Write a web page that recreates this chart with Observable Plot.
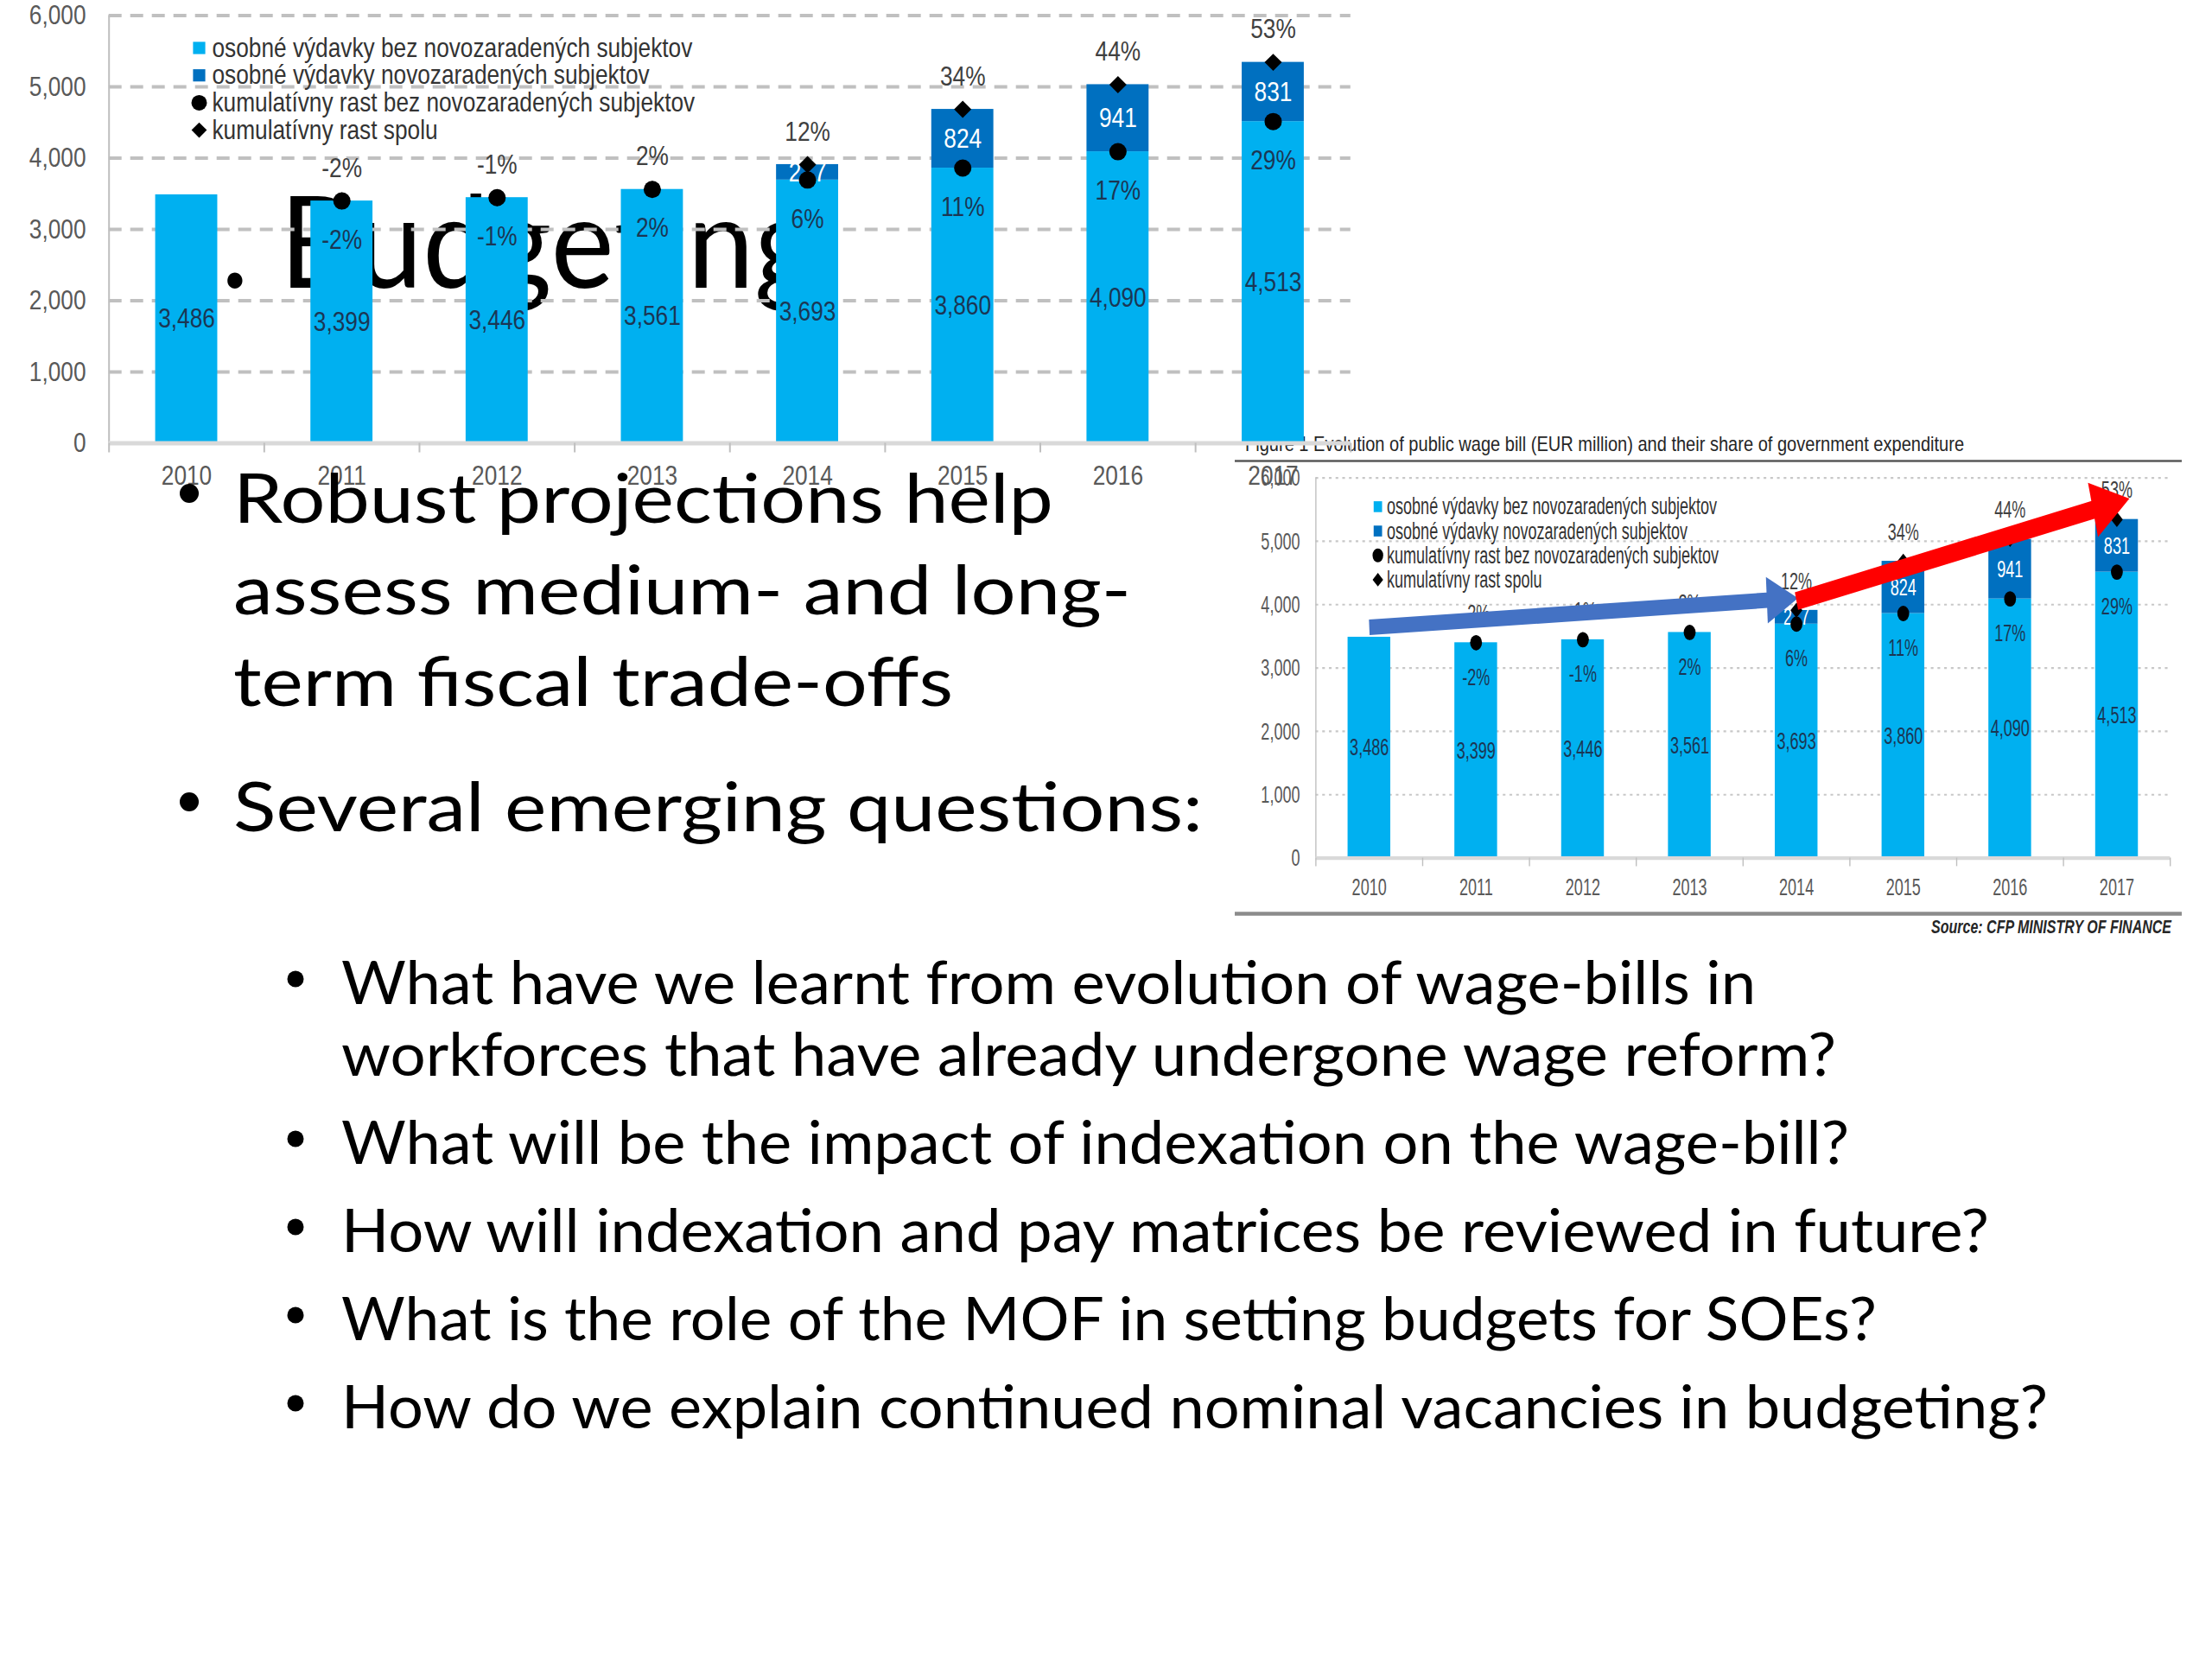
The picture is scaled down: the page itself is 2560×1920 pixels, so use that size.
<!DOCTYPE html>
<html>
<head>
<meta charset="utf-8">
<script src="https://cdn.jsdelivr.net/npm/d3@7"></script>
<script src="https://cdn.jsdelivr.net/npm/@observablehq/plot@0.6"></script>
<style>
html, body { margin: 0; padding: 0; background: #fff; }
#slide { position: relative; width: 2560px; height: 1920px; overflow: hidden; background: #fff; }
.layer { position: absolute; left: 0; top: 0; }
.layer svg { max-width: none; display: block; }
</style>
</head>
<body>
<div id="slide"></div>
<script>
// ---------------- data ----------------
const years = [2010, 2011, 2012, 2013, 2014, 2015, 2016, 2017];
const spendExisting = [3486, 3399, 3446, 3561, 3693, 3860, 4090, 4513];
const spendNew = [0, 0, 0, 0, 217, 824, 941, 831];
const growthExisting = ["", "-2%", "-1%", "2%", "6%", "11%", "17%", "29%"];
const growthTotal = ["", "-2%", "-1%", "2%", "12%", "34%", "44%", "53%"];
const yTicks = [0, 1000, 2000, 3000, 4000, 5000, 6000];
const legendLabels = [
  "osobné výdavky bez novozaradených subjektov",
  "osobné výdavky novozaradených subjektov",
  "kumulatívny rast bez novozaradených subjektov",
  "kumulatívny rast spolu"
];
// annotation arrows on the small figure (year, EUR million)
const arrowStartYear = [2010, 2014];
const arrowStartValue = [3641, 4056];
const arrowEndYear = [2013.82, 2016.89];
const arrowEndValue = [4080, 5554];

const slideTitle = "1. Budgeting";
const bulletsTop = [
  ["Robust projections help", "assess medium- and long-", "term fiscal trade-offs"],
  ["Several emerging questions:"]
];
const questions = [
  ["What have we learnt from evolution of wage-bills in", "workforces that have already undergone wage reform?"],
  ["What will be the impact of indexation on the wage-bill?"],
  ["How will indexation and pay matrices be reviewed in future?"],
  ["What is the role of the MOF in setting budgets for SOEs?"],
  ["How do we explain continued nominal vacancies in budgeting?"]
];
const figureTitle = "Figure 1 Evolution of public wage bill (EUR million) and their share of government expenditure";
const sourceNote = "Source: CFP MINISTRY OF FINANCE";

// ---------------- styles ----------------
const LIGHT = "#00b0f0", DARK = "#0070c0";
const CHART_FONT = '"Liberation Sans",Arial,sans-serif';
const SLIDE_FONT = 'Lato,"Open Sans","Noto Sans",sans-serif';
const slide = document.getElementById("slide");

function wageChart(k, opt) {
  const fs = 32 * k;
  const table = years.map((year, i) => ({
    year, base: spendExisting[i], add: spendNew[i], total: spendExisting[i] + spendNew[i],
    gb: growthExisting[i], gt: growthTotal[i]
  }));
  const grown = table.filter(d => d.gt !== "");
  const added = table.filter(d => d.add > 0);
  const edges = [years[0] - 0.5, ...years.map(y => y + 0.5)];
  const half = 0.2;
  const marks = [
    Plot.ruleY(yTicks.slice(1), {stroke: opt.grid, strokeWidth: opt.gridWidth, strokeDasharray: opt.dash}),
    Plot.ruleX([edges[0]], {stroke: "#bfbfbf", strokeWidth: 2 * k}),
    Plot.rectY(table, {x1: d => d.year - half, x2: d => d.year + half, y1: 0, y2: "base", fill: LIGHT}),
    Plot.rectY(added, {x1: d => d.year - half, x2: d => d.year + half, y1: "base", y2: "total", fill: DARK}),
    Plot.ruleY([0], {stroke: "#d9d9d9", strokeWidth: 5 * k}),
    Plot.axisX(edges, {tickSize: 11 * k, tickFormat: () => "", stroke: "#bfbfbf", strokeWidth: 2 * k, label: null}),
    Plot.axisX(years, {tickSize: 0, tickPadding: 25 * k, tickFormat: d => String(d), fontSize: fs, fill: "#595959", label: null}),
    Plot.axisY(yTicks, {tickSize: 0, tickPadding: 26.7 * k, tickFormat: d3.format(","), fontSize: fs, fill: "#595959", label: null}),
    Plot.text(table, {x: "year", y: d => d.base / 2, text: d => d3.format(",")(d.base), fontSize: fs, fill: "#1b3654"}),
    Plot.text(added, {x: "year", y: d => d.base + d.add / 2, text: d => String(d.add), fontSize: fs, fill: "#ffffff"}),
    Plot.dot(grown, {x: "year", y: "total", symbol: "diamond2", r: 9 * k, fill: "#000"}),
    Plot.dot(grown, {x: "year", y: "base", symbol: "circle", r: 10 * k, fill: "#000"}),
    Plot.text(grown, {x: "year", y: "base", dy: 45 * k, text: "gb", fontSize: fs, fill: "#1b3654"}),
    Plot.text(grown, {x: "year", y: "total", dy: -38 * k, text: "gt", fontSize: fs, fill: "#404040"})
  ];
  // legend (inside the frame, top-left)
  const symbols = ["square", "square", "circle", "diamond2"];
  const symbolFill = [LIGHT, DARK, "#000", "#000"];
  const symbolR = [8, 8, 9, 8];
  legendLabels.forEach((lab, i) => {
    const dy = (37.5 + i * 31.7) * k;
    marks.push(Plot.dot([lab], {frameAnchor: "top-left", dx: 104.3 * k, dy, symbol: symbols[i], r: symbolR[i] * k, fill: symbolFill[i]}));
    marks.push(Plot.text([lab], {frameAnchor: "top-left", dx: 119.3 * k, dy, text: d => d, textAnchor: "start", lineAnchor: "middle", fontSize: fs, fill: "#333"}));
  });
  if (opt.arrows) {
    const arrowColor = ["#4472c4", "#ff0000"];
    const arrowWidth = [18, 21];
    const headR = [20, 24];
    const headRotate = [87, 76.6];
    arrowStartYear.forEach((x1, i) => {
      const row = [{x1, y1: arrowStartValue[i], x2: arrowEndYear[i], y2: arrowEndValue[i]}];
      marks.push(Plot.link(row, {x1: "x1", y1: "y1", x2: "x2", y2: "y2", stroke: arrowColor[i], strokeWidth: arrowWidth[i], strokeLinecap: "butt"}));
      marks.push(Plot.dot(row, {x: "x2", y: "y2", symbol: "triangle", r: headR[i], fill: arrowColor[i], rotate: headRotate[i]}));
    });
  }
  return Plot.plot({
    width: 1600 * k, height: 600 * k,
    marginLeft: 125.7 * k, marginRight: 37.2 * k, marginTop: 17.5 * k, marginBottom: 87.5 * k,
    x: {domain: [2009.5, 2017.5]},
    y: {domain: [0, 6000]},
    style: {fontFamily: CHART_FONT, background: "transparent", overflow: "visible"},
    marks
  });
}

// condense chart text like Arial Narrow (≈82% of Arial's width)
function condense(svg, factor) {
  svg.querySelectorAll("text").forEach(t => {
    const len = t.getComputedTextLength();
    if (len > 0) {
      t.setAttribute("textLength", (len * factor).toFixed(2));
      t.setAttribute("lengthAdjust", "spacingAndGlyphs");
    }
  });
}

function makeSvg(z) {
  const s = d3.create("svg").attr("width", 2560).attr("height", 1920)
    .attr("class", "layer").style("z-index", z).style("overflow", "visible");
  slide.appendChild(s.node());
  return s;
}

// layer 1: slide title (behind the big chart)
const back = makeSvg(1);
back.append("text").attr("x", 175).attr("y", 333)
  .attr("font-family", SLIDE_FONT).attr("font-size", 148).attr("fill", "#000")
  .attr("textLength", 770).attr("lengthAdjust", "spacingAndGlyphs").text(slideTitle);

// layer 2: the small pasted figure (horizontally squashed)
const SQ = 0.774;
const deco = makeSvg(2);
const g = deco.append("g").attr("transform", `translate(1429,0) scale(${SQ},1)`);
g.append("line").attr("x1", 0).attr("x2", 1416).attr("y1", 533.6).attr("y2", 533.6).attr("stroke", "#595959").attr("stroke-width", 2.5);
g.append("text").attr("x", 15.5).attr("y", 522).attr("font-family", CHART_FONT).attr("font-size", 23)
  .attr("fill", "#262626").attr("textLength", 1075).attr("lengthAdjust", "spacingAndGlyphs").text(figureTitle);
g.append("line").attr("x1", 0).attr("x2", 1416).attr("y1", 1057.5).attr("y2", 1057.5).attr("stroke", "#8c8c8c").attr("stroke-width", 4.5);
g.append("text").attr("x", 1400.5).attr("y", 1080).attr("text-anchor", "end").attr("font-family", CHART_FONT)
  .attr("font-size", 22).attr("font-weight", "bold").attr("font-style", "italic").attr("fill", "#262626")
  .attr("textLength", 359).attr("lengthAdjust", "spacingAndGlyphs").text(sourceNote);

const kSmall = 0.889;
const small = document.createElement("div");
small.className = "layer";
small.style.cssText = `left:1435.7px;top:536.8px;width:${1600 * kSmall}px;height:${600 * kSmall}px;z-index:2;transform:scaleX(${SQ});transform-origin:0 0;`;
const smallSvg = wageChart(kSmall, {grid: "#c8c8c8", gridWidth: 2.2, dash: "4,6", arrows: true});
small.appendChild(smallSvg);
slide.appendChild(small);
condense(smallSvg, 0.82);

// layer 3: the big chart
const big = document.createElement("div");
big.className = "layer";
big.style.cssText = "left:0;top:0;width:1600px;height:600px;z-index:3;";
const bigSvg = wageChart(1, {grid: "#c0c0c0", gridWidth: 4, dash: "15,10", arrows: false});
big.appendChild(bigSvg);
slide.appendChild(big);
condense(bigSvg, 0.82);

// layer 4: bullet text
const front = makeSvg(4);
function line(str, x, y, size, len) {
  front.append("text").attr("x", x).attr("y", y).attr("font-family", SLIDE_FONT).attr("font-size", size)
    .attr("fill", "#000").attr("textLength", len).attr("lengthAdjust", "spacingAndGlyphs").text(str);
}
const topBase = [[605, 711, 817], [962]];
const topLen = [[949, 1039, 833], [1122]];
bulletsTop.forEach((para, p) => {
  front.append("circle").attr("cx", 219).attr("cy", topBase[p][0] - 34).attr("r", 11).attr("fill", "#000");
  para.forEach((s, j) => line(s, 270, topBase[p][j], 79.5, topLen[p][j]));
});
const qBase = [[1162, 1245], [1347], [1449], [1551], [1653]];
const qLen = [[1637, 1730], [1745], [1907], [1777], [1975]];
questions.forEach((para, p) => {
  front.append("circle").attr("cx", 342).attr("cy", qBase[p][0] - 29).attr("r", 9.5).attr("fill", "#000");
  para.forEach((s, j) => line(s, 395, qBase[p][j], 70, qLen[p][j]));
});
</script>
</body>
</html>
